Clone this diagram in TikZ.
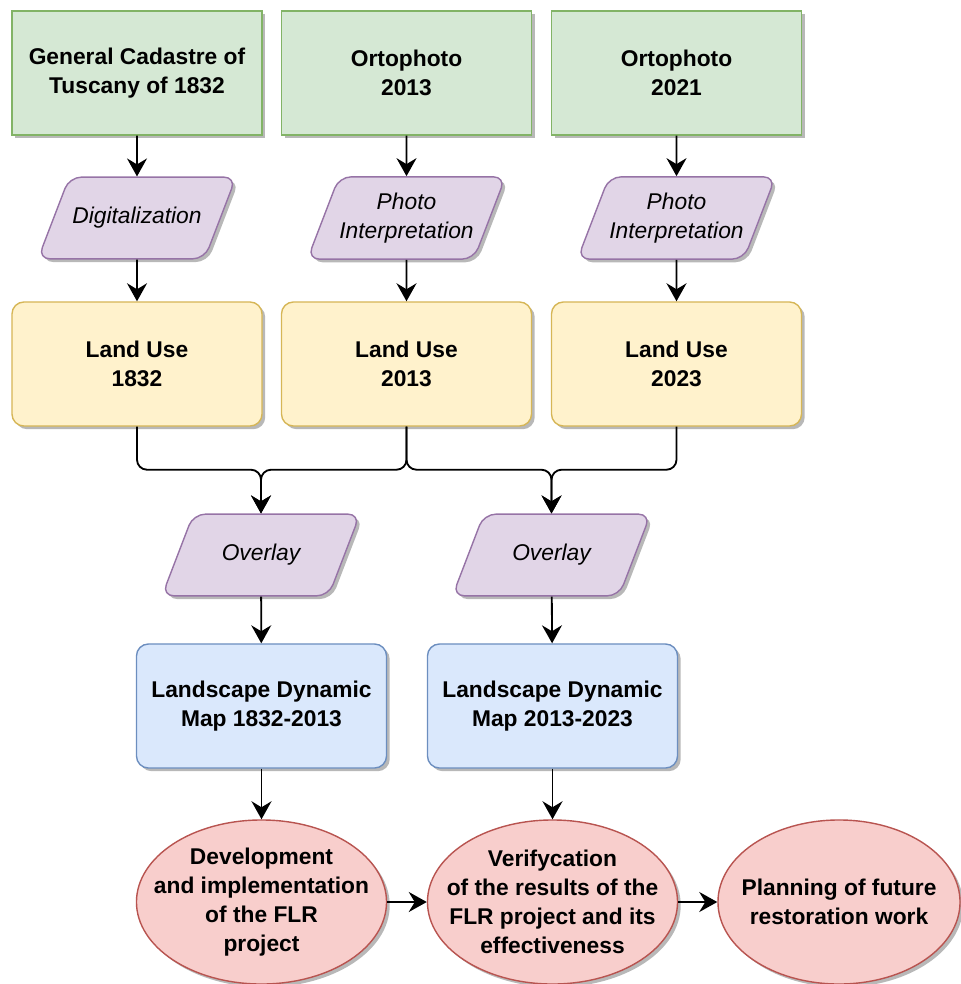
\documentclass[tikz,border=0pt]{standalone}
\usepackage{fontspec}
\setmainfont{Liberation Sans}
\usetikzlibrary{positioning, shapes.geometric, shadows, arrows.meta}

\definecolor{greenfill}{HTML}{D5E8D4}
\definecolor{greenline}{HTML}{82B366}
\definecolor{purplefill}{HTML}{E1D5E7}
\definecolor{purpleline}{HTML}{9673A6}
\definecolor{yellowfill}{HTML}{FFF2CC}
\definecolor{yellowline}{HTML}{D6B656}
\definecolor{bluefill}{HTML}{DAE8FC}
\definecolor{blueline}{HTML}{6C8EBF}
\definecolor{redfill}{HTML}{F8CECC}
\definecolor{redline}{HTML}{B85450}

\newcommand{\boxfont}{\fontsize{16.2pt}{20.6pt}\selectfont}

\begin{document}
\begin{tikzpicture}[x=0.025cm, y=-0.025cm,
  shade/.style={drop shadow={shadow xshift=0.08cm, shadow yshift=-0.08cm, fill=black!28, opacity=1}},
  source/.style={shade, draw=greenline, fill=greenfill, line width=1pt, minimum width=6.25cm, minimum height=3.1cm, align=center, font=\boxfont\bfseries},
  process/.style={shade, trapezium, trapezium stretches body=true, trapezium left angle=69, trapezium right angle=111, rounded corners=0.3cm, draw=purpleline, fill=purplefill, line width=1pt, minimum width=4.95cm, minimum height=2cm, inner xsep=0pt, inner ysep=21.5pt, align=center, font=\boxfont\itshape},
  twoline/.style={inner ysep=11.4pt},
  landuse/.style={shade, rounded corners=0.3cm, draw=yellowline, fill=yellowfill, line width=1pt, minimum width=6.25cm, minimum height=3.1cm, align=center, font=\boxfont\bfseries},
  dynmap/.style={shade, rounded corners=0.3cm, draw=blueline, fill=bluefill, line width=1pt, minimum width=6.25cm, minimum height=3.1cm, align=center, font=\boxfont\bfseries},
  result/.style={shade, ellipse, draw=redline, fill=redfill, line width=1pt, minimum width=6.25cm, minimum height=4.1cm, inner xsep=-20pt, inner ysep=-10pt, align=center, font=\boxfont\bfseries},
  link/.style={-{Stealth[length=0.45cm, width=0.5cm, inset=0.15cm]}, line width=1.3pt, rounded corners=0.25cm}
]

\useasboundingbox (0,0) rectangle (960,984);

% sources
\node (cadastre) at (137,73) [source] {General Cadastre of\\Tuscany of 1832};
\node (ortho13) at (406.5,73) [source] {Ortophoto\\2013};
\node (ortho21) at (676.5,73) [source] {Ortophoto\\2021};

% processing
\node (digital) at (137,218) [process] {Digitalization};
\node (photo13) at (406.5,218) [process, twoline] {Photo\\Interpretation};
\node (photo21) at (676.5,218) [process, twoline] {Photo\\Interpretation};

% land use
\node (use1832) at (137,364) [landuse] {Land Use\\1832};
\node (use2013) at (406.5,364) [landuse] {Land Use\\2013};
\node (use2023) at (676.5,364) [landuse] {Land Use\\2023};

\node (overlay1) at (261,555) [process] {Overlay};
\node (overlay2) at (551.5,555) [process] {Overlay};

\node (dyn1) at (261.5,706) [dynmap] {Landscape Dynamic\\Map 1832-2013};
\node (dyn2) at (552.5,706) [dynmap] {Landscape Dynamic\\Map 2013-2023};

% outcomes
\node (flr) at (261.5,902) [result] {Development\\and implementation\\of the FLR\\project};
\node (verify) at (552.5,902) [result] {Verifycation\\of the results of the\\FLR project and its\\effectiveness};
\node (future) at (839,902) [result, minimum width=6.05cm] {Planning of future\\restoration work};

\draw [link] (cadastre) -- (digital);
\draw [link] (ortho13) -- (photo13);
\draw [link] (ortho21) -- (photo21);
\draw [link] (digital) -- (use1832);
\draw [link] (photo13) -- (use2013);
\draw [link] (photo21) -- (use2023);

\draw [link] (use1832.south) -- ++(0,43) -| (overlay1.north);
\draw [link] (use2013.south) -- ++(0,43) -| (overlay1.north);
\draw [link] (use2013.south) -- ++(0,43) -| (overlay2.north);
\draw [link] (use2023.south) -- ++(0,43) -| (overlay2.north);

\draw [link] (overlay1) -- (dyn1);
\draw [link] (overlay2) -- (dyn2);
\draw [link] (dyn1) -- (flr);
\draw [link] (dyn2) -- (verify);
\draw [link] (flr) -- (verify);
\draw [link] (verify) -- (future);

\end{tikzpicture}
\end{document}
